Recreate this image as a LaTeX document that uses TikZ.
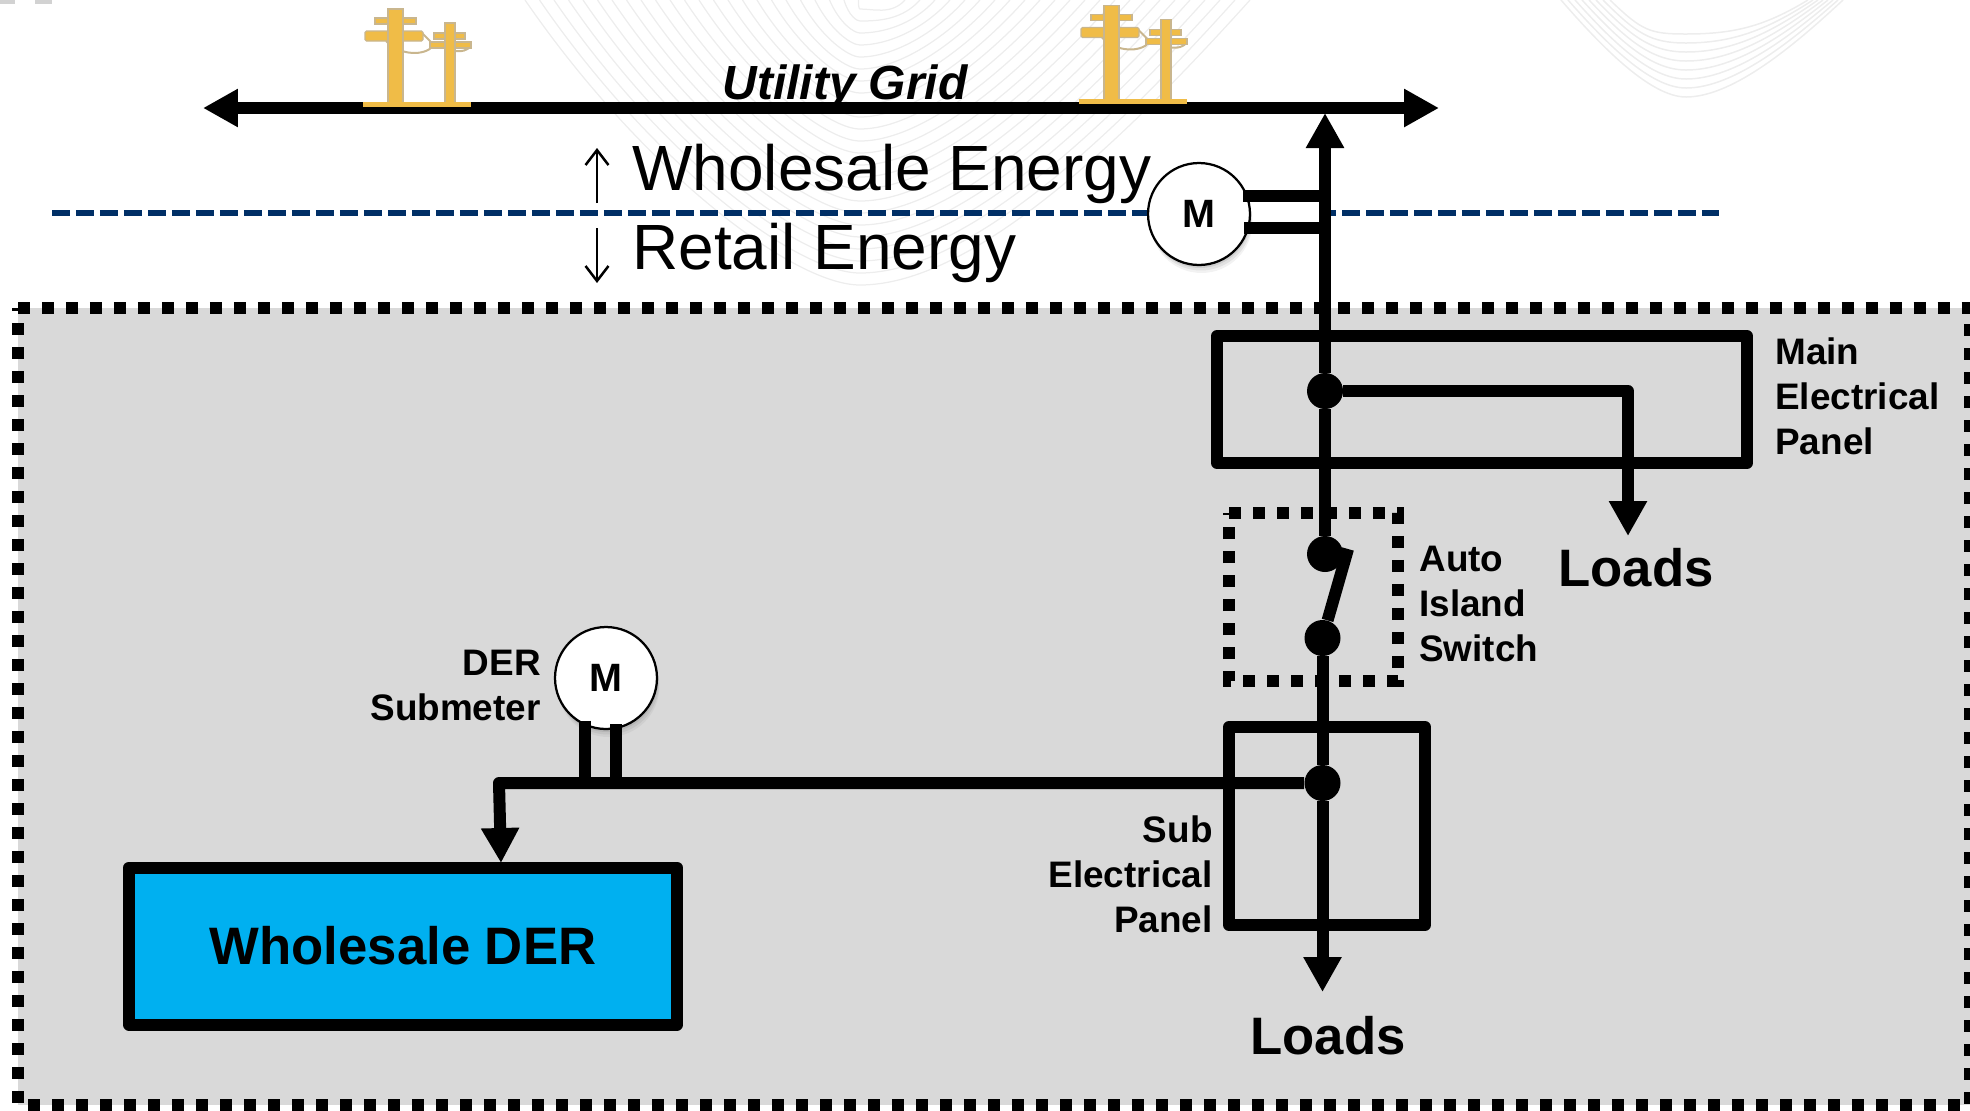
\documentclass[tikz,border=0pt]{standalone}
\usepackage{fontspec}
\setmainfont{Liberation Sans}
\usetikzlibrary{arrows.meta, shadows}
\definecolor{poleyellow}{HTML}{F0BC47}
\definecolor{poleedge}{HTML}{C9B68E}
\definecolor{linenavy}{HTML}{002F66}
\definecolor{derblue}{HTML}{00B0F0}
\definecolor{premisegray}{HTML}{D9D9D9}
\definecolor{watermark}{HTML}{EDEDED}

\begin{document}
\begin{tikzpicture}[
    x=0.02cm, y=-0.02cm,
    >={Triangle[length=0.7cm,width=0.72cm]},
    wire/.style={line width=0.24cm, line join=round},
    panel/.style={draw, line width=0.24cm, line join=round, rectangle, inner sep=0pt},
    dotline/.style={line width=0.24cm, dash pattern=on 0.24cm off 0.24cm},
    navyline/.style={linenavy, line width=0.12cm, dash pattern=on 0.36cm off 0.12cm},
    junction/.style={circle, fill=black, inner sep=0pt, minimum size=0.72cm},
    meter/.style={circle, draw, line width=0.045cm, fill=white, inner sep=0pt, minimum size=2.04cm,
        font=\fontsize{22.5}{27}\selectfont\bfseries,
        drop shadow={opacity=0.10, shadow xshift=0.05cm, shadow yshift=-0.16cm},
        drop shadow={opacity=0.14, shadow xshift=0.04cm, shadow yshift=-0.11cm},
        drop shadow={opacity=0.20, shadow xshift=0.02cm, shadow yshift=-0.06cm}},
    lbl/.style={inner sep=0pt, font=\fontsize{21}{25.6}\selectfont\bfseries},
    loadlbl/.style={inner sep=0pt, font=\fontsize{30}{36}\selectfont\bfseries},
    energy/.style={inner sep=0pt, anchor=base west, font=\fontsize{36.4}{44}\selectfont},
    flowarrow/.style={line width=0.05cm, -{Straight Barb[length=0.3cm,width=0.46cm]}},
    pole/.style={fill=poleyellow, draw=poleedge, line width=0.025cm}
]
\useasboundingbox (0,0) rectangle (1970,1110);

% ============================================================
% WATERMARK
% ============================================================
\fill[gray!35] (0,0) rectangle (15,4);
\fill[gray!35] (35,0) rectangle (52,4);
\foreach \i in {0,...,23} {
    \draw[watermark, line width=0.025cm] (525+\i*14.5,0) .. controls (642+\i*9.4,170-\i*7) and (793+\i*2.9,285-\i*12) .. (860,285-\i*12)
        .. controls (977-\i*4.5,285-\i*12) and (1133-\i*10.5,130-\i*5) .. (1250-\i*15,0);
}
\foreach \i in {0,...,7} {
    \draw[watermark, line width=0.03cm] (1561+\i*7,0) .. controls (1600+\i*6,45-\i*2) and (1650,97-\i*9) .. (1686,97-\i*9)
        .. controls (1735,97-\i*9) and (1800-\i*5,40-\i*2) .. (1843-\i*5,0);
}

% ============================================================
% PREMISE AREA
% ============================================================
\fill[premisegray] (18,308) rectangle (1970,1105);
\draw[dotline] (18,308) -- (1970,308) -- (1970,1105) -- (18,1105) -- cycle;

% ============================================================
% UTILITY POLES
% ============================================================
\foreach \polex/\poley in {0/0, 716/-3.5} {
\begin{scope}[shift={(\polex,\poley)}]
    \draw[poleedge, line width=0.04cm] (386,41) .. controls (400,56) and (425,56) .. (433,46);
    \draw[poleedge, line width=0.04cm] (422,33) -- (435,46);
    \draw[poleedge, line width=0.04cm] (456,51) .. controls (462,52) and (467,50) .. (470,47);
    \draw[pole] (375,18) rectangle (416,24);
    \draw[pole, rounded corners=0.03cm] (365,31) rectangle (423,41);
    \draw[pole] (388,9) rectangle (403,103);
    \draw[pole] (434,33) rectangle (465,39);
    \draw[pole] (430,42) rectangle (471,48);
    \draw[pole] (445,23) rectangle (455,103);
\end{scope}
}

% ============================================================
% UTILITY GRID
% ============================================================
\coordinate (gridleft) at (203,108);
\coordinate (gridright) at (1439,108);
\draw[wire, <->] (gridleft) -- (gridright);
\foreach \polex/\poley in {0/0, 716/-3.5} {
    \fill[poleyellow] (363+\polex,102+\poley) rectangle (471+\polex,107+\poley);
}
\node[inner sep=0pt, anchor=base, font=\fontsize{27.3}{33}\selectfont\bfseries\itshape] (gridlabel) at (845,99) {Utility Grid};

% ============================================================
% ENERGY BOUNDARY
% ============================================================
\node[meter] (mainmeter) at (1199,214) {\raisebox{-1pt}{M}};
\draw[navyline] (52,213) -- (mainmeter.west |- 52,213);
\draw[navyline, dash phase=0.24cm] (1330,213) -- (1719,213);
\node[energy] (wholesale) at (632,190) {Wholesale Energy};
\node[energy] (retail) at (632,269) {Retail Energy};
\coordinate (uptail) at (597,203);
\coordinate (uphead) at (597,148);
\coordinate (downtail) at (597,228);
\coordinate (downhead) at (597,283);
\draw[flowarrow] (uptail) -- (uphead);
\draw[flowarrow] (downtail) -- (downhead);

% ============================================================
% MAIN ELECTRICAL PANEL
% ============================================================
\node[panel, minimum width=10.6cm, minimum height=2.54cm] (mainpanel) at (1482,399.5) {};
\node[junction] (maindot) at (1325,391) {};
\coordinate (gridtap) at (1325,113);
\coordinate (mainbend) at (1628,391);
\coordinate (mainload) at (1628,536);
\draw[wire, ->] (maindot) -- (gridtap);
\draw[wire, ->] (maindot) -- (mainbend) -- (mainload);
\draw[wire, shorten <=-0.1cm] (mainmeter.20.7) -- (mainmeter.20.7 -| maindot);
\draw[wire, shorten <=-0.1cm] (mainmeter.-16) -- (mainmeter.-16 -| maindot);
\node[lbl, anchor=west, align=left] (mainlabel) at (1775,396.5) {Main\\Electrical\\Panel};
\node[loadlbl] (mainloads) at (1636,568) {Loads};

% ============================================================
% AUTO ISLAND SWITCH
% ============================================================
\draw[dotline] (1229,513) -- (1398,513) -- (1398,681) -- (1229,681) -- cycle;
\node[junction] (switchtop) at (1325,554) {};
\node[junction] (switchbottom) at (1322.5,638) {};
\coordinate (switchtip) at (1348,549);
\draw[wire] (maindot) -- (switchtop);
\draw[wire] (switchbottom) -- (switchtip);
\node[lbl, anchor=west, align=left] (switchlabel) at (1419,603.5) {Auto\\Island\\Switch};

% ============================================================
% SUB ELECTRICAL PANEL
% ============================================================
\node[panel, minimum width=3.92cm, minimum height=3.96cm] (subpanel) at (1327,826) {};
\node[junction] (subdot) at (1322.5,783) {};
\coordinate (subload) at (1322.5,992);
\draw[wire] (switchbottom) -- (subdot);
\draw[wire, ->] (subdot) -- (subload);
\node[lbl, anchor=east, align=right] (sublabel) at (1213,874) {Sub\\Electrical\\Panel};
\node[loadlbl] (subloads) at (1328,1035.5) {Loads};

% ============================================================
% WHOLESALE DER
% ============================================================
\node[panel, fill=derblue, minimum width=10.96cm, minimum height=3.14cm,
    font=\fontsize{30}{36}\selectfont\bfseries] (der) at (403,946) {Wholesale DER};
\coordinate (derbend) at (499,783);
\coordinate (dertap) at (501,863);
\draw[wire, ->] (subdot) -- (derbend) -- (dertap);
\node[meter] (dermeter) at (606,678) {\raisebox{-1pt}{M}};
\draw[wire, shorten <=-0.1cm] (dermeter.-114) -- (dermeter.-114 |- subdot);
\draw[wire, shorten <=-0.1cm] (dermeter.-79) -- (dermeter.-79 |- subdot);
\node[lbl, anchor=east, align=right] (derlabel) at (541,685) {DER\\Submeter};

\end{tikzpicture}
\end{document}
